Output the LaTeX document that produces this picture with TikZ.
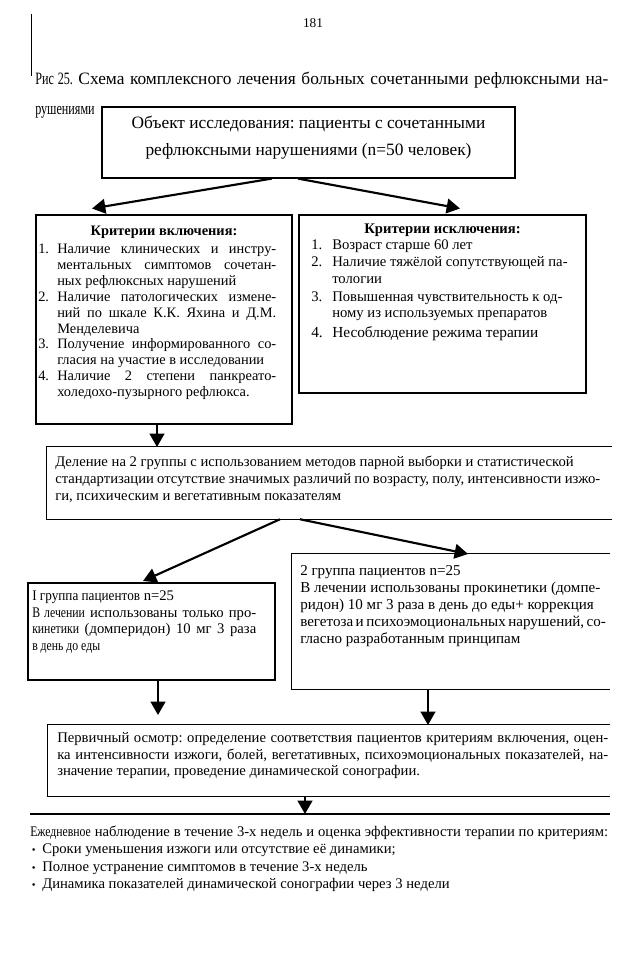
\documentclass[tikz,border=0pt]{standalone}
\usepackage{fontspec}
\setmainfont{Liberation Serif}
\newfontfamily\cond[FakeStretch=0.8]{Liberation Serif}
\newfontfamily\condc[FakeStretch=0.9]{Liberation Serif}
\newfontfamily\condd[FakeStretch=0.7]{Liberation Serif}
\usetikzlibrary{arrows.meta,calc,fit}
\frenchspacing
\newlength\ind
\newcommand\jl[1]{\makebox[\linewidth][s]{#1}}
\newcommand\nj[2]{\makebox[\ind][l]{#1}\makebox[\dimexpr\linewidth-\ind\relax][s]{#2}}
\newcommand\nr[2]{\makebox[\ind][l]{#1}#2}
\newcommand\fs[2]{\fontsize{#1}{#2}\selectfont}
\begin{document}
\begin{tikzpicture}[x=0.75pt,y=-0.75pt,
  boxline/.style={line width=0.9pt},
  box/.style={draw,boxline,inner sep=0pt},
  open/.style={inner sep=0pt},
  arr/.style={line width=1.6pt,-{Triangle[length=10pt,width=11pt]}},
  txt/.style={inner sep=0pt,anchor=base west}]
\useasboundingbox[fill=white] (0,0) rectangle (639,960);

% page number and margin mark
\node[txt,anchor=base,font=\fs{10}{12}] (pg) at (313,27) {181};
\coordinate (vt) at (31,14);
\coordinate (vb) at (31,76);
\draw[line width=0.7pt] (vt) -- (vb);

% caption
\node[txt,font=\fs{13}{15}] (cap) at (35,84) {\makebox[429.75pt][s]{{\condd Рис 25.} Схема комплексного лечения больных сочетанными рефлюксными на-}};
\node[txt,font=\fs{13}{15}] (cap2) at (35,114) {\condd рушениями};

% top box
\node[box,fit={(102,107)(515,178)}] (top) {};
\node[txt,anchor=base] (toptxt) at (308.5,128) {\parbox[t]{300pt}{\centering\fs{13}{20.25}Объект исследования: пациенты с сочетанными\\рефлюксными нарушениями (n=50 человек)}};

% inclusion box
\node[box,fit={(36,215)(292,424)}] (incl) {};
\node[txt,anchor=base,font=\fs{10.8}{12}\bfseries] (incltitle) at (164,235) {Критерии включения:};
\node[txt] (incllist) at (38,253.5) {\parbox[t]{178.5pt}{\fs{10.8}{11.93}\setlength\ind{14.25pt}%
\nj{1.}{Наличие клинических и инстру-}\\
\nj{}{ментальных симптомов сочетан-}\\
\nr{}{ных рефлюксных нарушений}\\
\nj{2.}{Наличие патологических измене-}\\
\nj{}{ний по шкале К.К. Яхина и Д.М.}\\
\nr{}{Менделевича}\\
\nj{3.}{Получение информированного со-}\\
\nr{}{гласия на участие в исследовании}\\
\nj{4.}{Наличие 2 степени панкреато-}\\
\nr{}{холедохо-пузырного рефлюкса.}}};

% exclusion box
\node[box,fit={(299,215)(586,393)}] (excl) {};
\node[txt,anchor=base,font=\fs{11}{12}\bfseries] (excltitle) at (442.5,233.5) {Критерии исключения:};
\node[txt] (excllist) at (311,249.5) {\parbox[t]{194.25pt}{\fs{11}{12.4}\setlength\ind{15.75pt}%
\nr{1.}{Возраст старше 60 лет}\\[0.5pt]
\nr{2.}{Наличие тяжёлой сопутствующей па-}\\
\nr{}{тологии}\\[1pt]
\nr{3.}{Повышенная чувствительность к од-}\\
\nr{}{ному из используемых препаратов}\\[2.5pt]
{\fs{11.5}{12.4}\nr{4.}{Несоблюдение режима терапии}}}};

% division box (open right side)
\node[open,fit={(47,447)(612,519)}] (div) {};
\draw[boxline] (div.north east) -- (div.north west) -- (div.south west) -- (div.south east);
\node[txt] (divtxt) at (55,466) {\parbox[t]{408.75pt}{\fs{11}{12.75}%
Деление на 2 группы с использованием методов парной выборки и статистической\\
\jl{стандартизации отсутствие значимых различий по возрасту, полу, интенсивности изжо-}\\
ги, психическим и вегетативным показателям}};

% group 1
\node[box,fit={(28,583)(275,680)}] (g1) {};
\node[txt] (g1txt) at (32,600.5) {\parbox[t]{168pt}{\fs{11}{12.5}%
{\condc I группа пациентов} n=25\\
\jl{{\cond В лечении} использованы только про-}\\
\jl{{\cond кинетики} (домперидон) 10 мг 3 раза}\\
{\cond в день до еды}}};

% group 2 (open right side)
\node[open,fit={(292,554)(610,689)}] (g2) {};
\draw[boxline] (g2.north east) -- (g2.north west) -- (g2.south west) -- (g2.south east);
\node[txt] (g2txt) at (300,575.5) {\parbox[t]{225pt}{\fs{11.3}{12.75}%
2 группа пациентов n=25\\
\jl{В лечении использованы прокинетики (домпе-}\\
ридон) 10 мг 3 раза в день до еды+ коррекция\\
\jl{вегетоза и психоэмоциональных нарушений, со-}\\
гласно разработанным принципам}};

% primary examination (open right side)
\node[open,fit={(48,725)(610,796)}] (prim) {};
\draw[boxline] (prim.north east) -- (prim.north west) -- (prim.south west) -- (prim.south east);
\node[txt] (primtxt) at (57,742.5) {\parbox[t]{413.25pt}{\fs{11}{12.4}%
\jl{Первичный осмотр: определение соответствия пациентов критериям включения, оцен-}\\
\jl{ка интенсивности изжоги, болей, вегетативных, психоэмоциональных показателей, на-}\\
значение терапии, проведение динамической сонографии.}};

% final line and text
\coordinate (hl) at (30,814);
\coordinate (hr) at (610,814);
\draw[boxline] (hl) -- (hr);
\node[txt] (fintxt) at (30,836.5) {\parbox[t]{433.5pt}{\fs{11}{13.1}%
\jl{{\cond Ежедневное} наблюдение в течение 3-х недель и оценка эффективности терапии по критериям:}\\
\makebox[9pt][l]{\hspace{1.2pt}{\fs{8}{9}\textbullet}}Сроки уменьшения изжоги или отсутствие её динамики;\\
\makebox[9pt][l]{\hspace{1.2pt}{\fs{8}{9}\textbullet}}Полное устранение симптомов в течение 3-х недель\\
\makebox[9pt][l]{\hspace{1.2pt}{\fs{8}{9}\textbullet}}Динамика показателей динамической сонографии через 3 недели}};

% arrow tips
\coordinate (tipI) at (92,208.5);
\coordinate (tipE) at (460,208.5);
\coordinate (tipD) at (157,447);
\coordinate (tipG1) at (143,581);
\coordinate (tipG2) at (468,554);
\coordinate (tipP1) at (158,715);
\coordinate (tipP2) at (428,725);
\coordinate (tipF) at (305,814);

% arrows
\draw[arr] ($(top.south west)!0.4116!(top.south east)$) -- (tipI);
\draw[arr] ($(top.south west)!0.4746!(top.south east)$) -- (tipE);
\draw[arr] (incl.south -| tipD) -- (tipD);
\draw[arr] ($(div.south west)!0.4124!(div.south east)$) -- (tipG1);
\draw[arr] ($(div.south west)!0.4478!(div.south east)$) -- (tipG2);
\draw[arr] (g1.south -| tipP1) -- (tipP1);
\draw[arr] (g2.south -| tipP2) -- (tipP2);
\draw[arr] (prim.south -| tipF) -- (tipF);
\end{tikzpicture}
\end{document}
